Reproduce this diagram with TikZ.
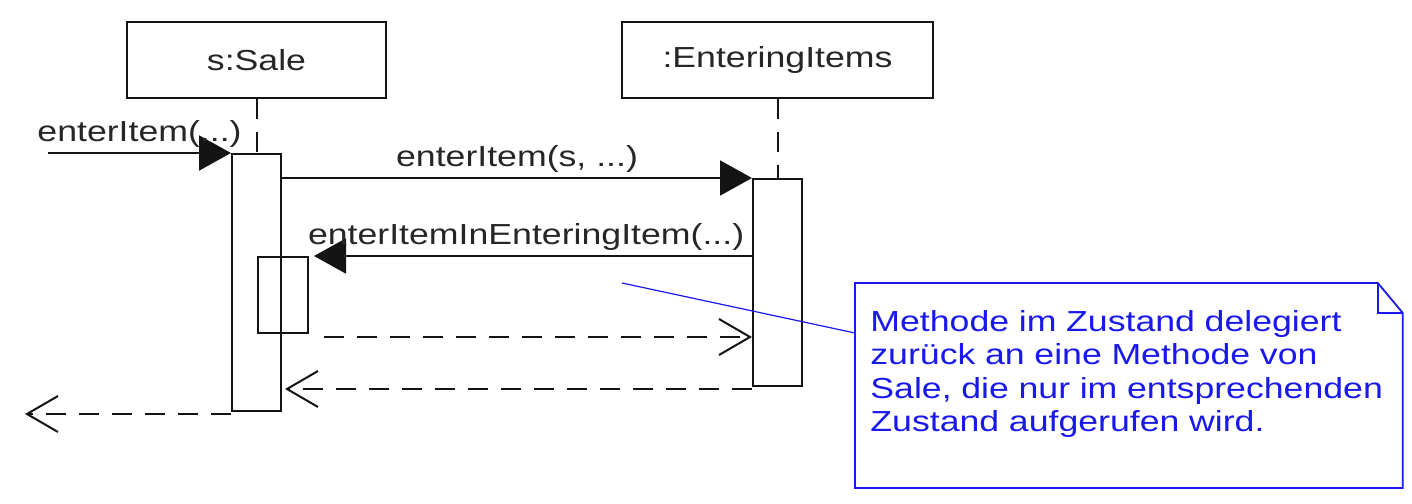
\documentclass[tikz,border=0pt]{standalone}
\usepackage{fontspec}
\setmainfont{Liberation Sans}[FakeStretch=1.23]
\usepackage{tikz}
\usetikzlibrary{positioning,arrows.meta,calc}
\usepackage{xcolor}
\definecolor{noteblue}{RGB}{25,25,235}
\definecolor{lineblack}{RGB}{20,20,20}

\begin{document}
\begin{tikzpicture}[
  x=0.5pt,y=-0.5pt,
  font=\fontsize{14.5pt}{16.75pt}\selectfont,
  headbox/.style={draw=lineblack,line width=1pt,fill=white,minimum height=38pt,inner sep=0pt,text=black!85},
  actbox/.style={draw=lineblack,line width=1pt,minimum width=24.5pt,inner sep=0pt},
  life/.style={draw=lineblack,line width=1pt,dash pattern=on 10pt off 6.5pt},
  call/.style={-{Triangle[length=16pt,width=17.5pt]},draw=lineblack,line width=1pt},
  ret/.style={-{Straight Barb[length=15.5pt,width=18pt]},draw=lineblack,line width=1pt,dash pattern=on 10pt off 6.5pt},
  lbl/.style={anchor=base,yshift=6pt,inner sep=0pt,text=black!85},
  notebox/.style={anchor=north west,align=left,text width=258.5pt,inner xsep=7.5pt,inner ysep=13.5pt,text=noteblue},
  noteline/.style={draw=noteblue,line width=0.9pt}
]
\useasboundingbox (0,0) rectangle (1412,503);

% lifeline heads
\node[headbox,minimum width=129.5pt] (sale) at (256.5,60) {s:Sale};
\node[headbox,minimum width=155.5pt] (ent) at (777.5,60) {:EnteringItems};

% activations
\node[actbox,anchor=north,minimum height=128.5pt] (saleAct) at (256.5,153) {};
\node[actbox,anchor=north,minimum height=103.5pt,fill=white] (entAct) at (777.5,178) {};
\node[actbox,anchor=north west,minimum width=25pt,minimum height=38pt] (nest) at (257,256) {};
\draw[life] (sale.south) -- (saleAct.north);
\draw[life] (ent.south) -- (entAct.north);

% messages
\coordinate (start) at (48,153);
\coordinate (leftEdge) at (25,0);
\draw[call] (start) -- (saleAct.north west) node[lbl,midway] {enterItem(...)};
\draw[call] (saleAct.east |- entAct.north) -- (entAct.north west) node[lbl,midway] {enterItem(s, ...)};
\draw[call,shorten >=2.5pt] (entAct.west |- nest.north) -- (nest.north east) node[lbl,pos=0.51] {enterItemInEnteringItem(...)};
\draw[ret] ([shift={(7.5pt,-1.5pt)}]nest.south east) -- ([yshift=-1.5pt]entAct.west |- nest.south);
\draw[ret] ([yshift=-1pt]entAct.south west) -- ([shift={(1.5pt,-1pt)}]saleAct.east |- entAct.south);
\coordinate (r3) at ([yshift=-1pt]saleAct.south west);
\draw[ret] (r3) -- (r3 -| leftEdge);

% note
\node[notebox] (note) at (855,283) {Methode im Zustand delegiert\\zurück an eine Methode von\\Sale, die nur im entsprechenden\\Zustand aufgerufen wird.};
\coordinate (noteBase) at (0,488);
\draw[noteline] (note.north west) -- ([xshift=-12.5pt]note.north east) -- ([yshift=-15pt]note.north east)
  -- (note.north east |- noteBase) -- (note.north west |- noteBase) -- cycle;
\draw[noteline] ([xshift=-12.5pt]note.north east) |- ([yshift=-15pt]note.north east);
\coordinate (hook) at (622,283);
\draw[draw=noteblue,line width=0.6pt] (hook) -- ([yshift=-25pt]note.north west);
\end{tikzpicture}
\end{document}
